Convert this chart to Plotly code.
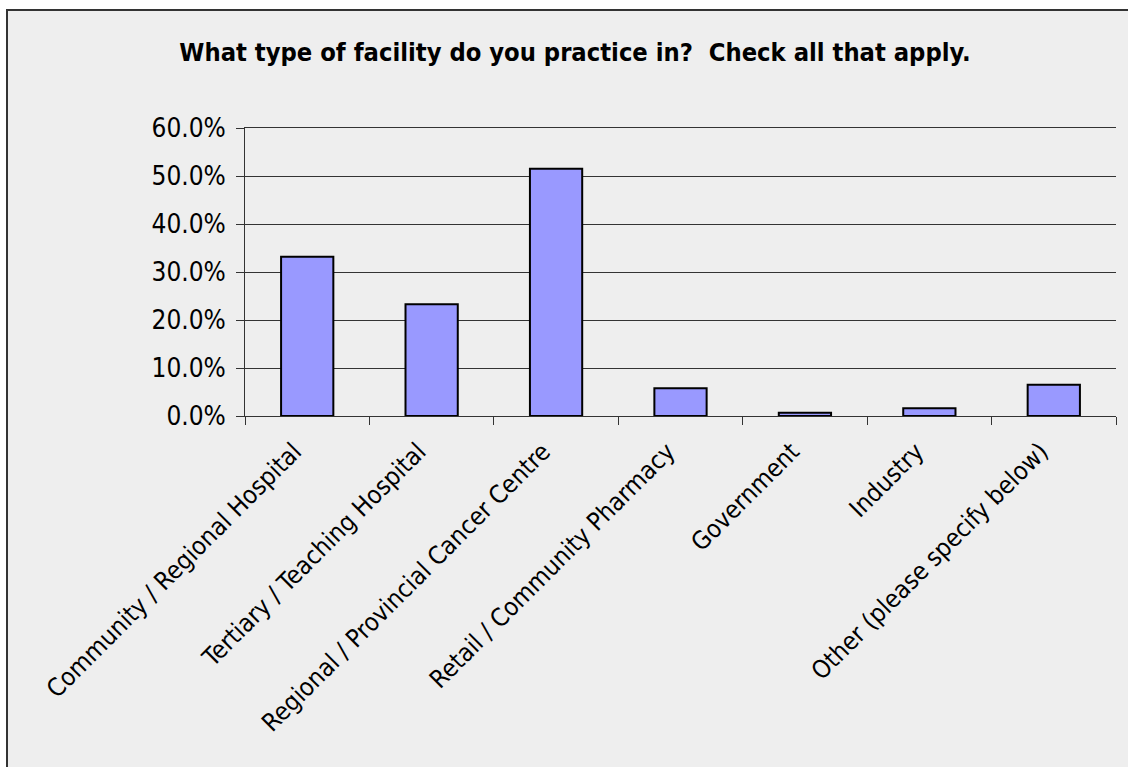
import plotly.graph_objects as go

categories = [
    "Community / Regional Hospital",
    "Tertiary / Teaching Hospital",
    "Regional / Provincial Cancer Centre",
    "Retail / Community Pharmacy",
    "Government",
    "Industry",
    "Other (please specify below)",
]
values = [0.332, 0.233, 0.515, 0.058, 0.007, 0.016, 0.065]
y_ticks = [0.0, 0.1, 0.2, 0.3, 0.4, 0.5, 0.6]

FONT = "DejaVu Sans Condensed, DejaVu Sans, sans-serif"

fig = go.Figure()
fig.add_trace(go.Bar(
    x=categories, y=values, width=0.42,
    marker=dict(color="#9999ff", line=dict(color="#000000", width=2)),
    hoverinfo="x+y",
))

W, H = 1128, 767
L, R, T, B = 245, 1116, 128, 416
pw, ph = R - L, B - T

fig.add_shape(
    type="rect", xref="paper", yref="paper", layer="below",
    x0=(7 - L) / pw, x1=(W + 20 - L) / pw,
    y0=(B - (H + 20)) / ph, y1=(B - 10) / ph,
    fillcolor="#eeeeee", line=dict(color="#333333", width=2),
)

fig.update_layout(
    width=W, height=H,
    margin=dict(l=L, r=W - R, t=T, b=H - B, pad=0),
    paper_bgcolor="white",
    plot_bgcolor="rgba(0,0,0,0)",
    font=dict(family=FONT, size=25, color="black"),
    showlegend=False,
    title=dict(
        text="<b>What type of facility do you practice in?  Check all that apply.</b>",
        x=575 / W, xanchor="center", y=1 - 52 / H, yanchor="middle",
        yref="container", xref="container",
        font=dict(family=FONT, size=25.3, color="black"),
    ),
    xaxis=dict(
        type="category",
        tickangle=-45,
        ticks="outside", ticklen=8, tickcolor="#333333", tickwidth=1,
        tickson="boundaries",
        showline=True, linecolor="#333333", linewidth=1, mirror=True,
        showgrid=False,
        tickfont=dict(family=FONT, size=25),
        ticklabelstandoff=10,
        ticklabelshift=-13,
        range=[-0.5, 6.5],
    ),
    yaxis=dict(
        range=[0, 0.6],
        tickvals=y_ticks,
        tickformat=".1%",
        ticks="outside", ticklen=8, tickcolor="#333333", tickwidth=1,
        showline=True, linecolor="#333333", linewidth=1,
        showgrid=True, gridcolor="#333333", gridwidth=1,
        zeroline=False,
        tickfont=dict(family=FONT, size=26),
        ticklabelstandoff=5,
    ),
)

fig.write_html("out.html", post_script="document.body.style.margin='0';",
               config={"displayModeBar": False})
